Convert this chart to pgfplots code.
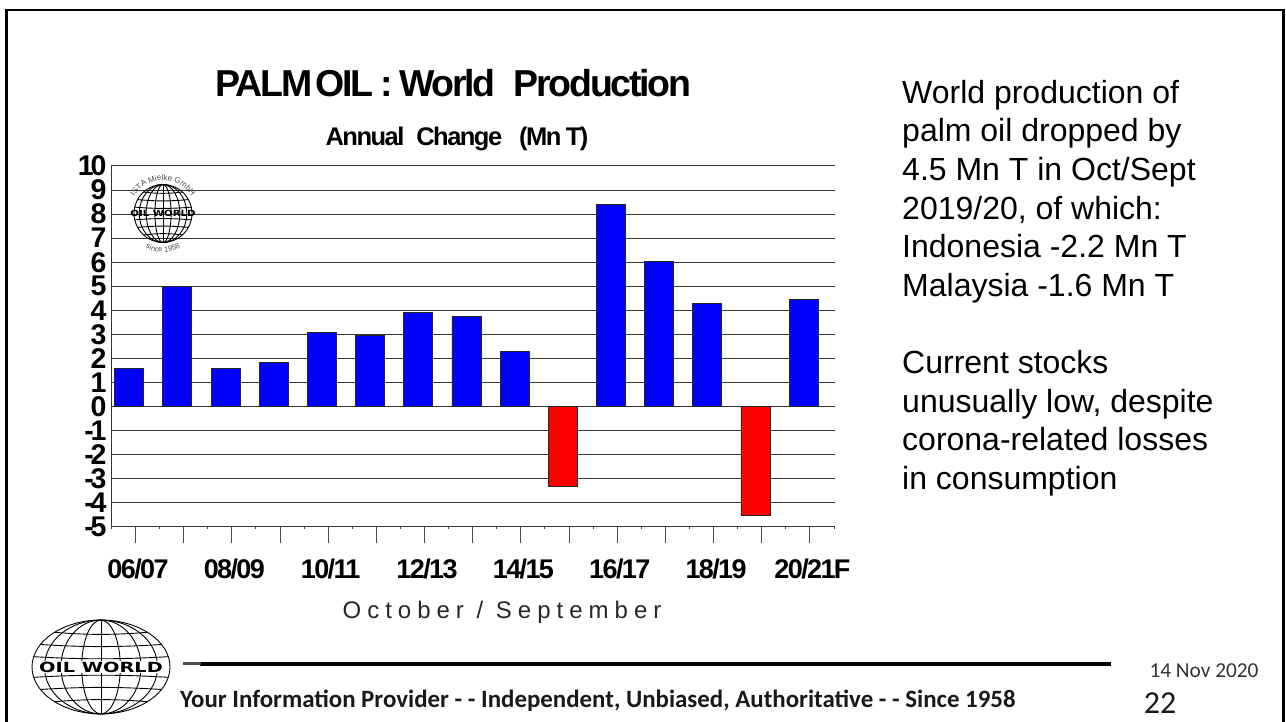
\documentclass[border=0pt]{standalone}
\usepackage{pgfplots}
\pgfplotsset{compat=1.18}
\usepackage{fontspec}
\usetikzlibrary{decorations.text}
\setmainfont{Liberation Sans}
\newfontfamily\tight[LetterSpace=-6,WordSpace=0.8]{Liberation Sans}
\newfontfamily\tighter[LetterSpace=-11]{Liberation Sans}
\newfontfamily\carl{Carlito}
\newfontfamily\djv{DejaVu Sans}
\pgfplotstableread{
x v
0 1.6
1 5.0
2 1.6
3 1.85
4 3.07
5 2.95
6 3.9
7 3.75
8 2.3
10 8.4
11 6.05
12 4.3
14 4.45
}\pos
\pgfplotstableread{
x v
9 -3.3
13 -4.5
}\negv
\newcommand{\globe}[3]{% x y scale
\begin{scope}[shift={(#1,#2)},x=#3pt,y=#3pt,line width=0.9pt]
\draw (0,0) ellipse (1 and 1);
\foreach \a in {0.28,0.58,0.82}{\draw (0,0) ellipse (\a*1 and 1);}
\draw (0,-1)--(0,1);
\foreach \b in {0.22,0.48,0.74}{
\pgfmathsetmacro\w{sqrt(1-\b*\b)}
\draw (-\w,\b) .. controls (-0.3*\w,\b-0.06) and (0.3*\w,\b-0.06) .. (\w,\b);
\draw (-\w,-\b) .. controls (-0.3*\w,-\b+0.06) and (0.3*\w,-\b+0.06) .. (\w,-\b);}
\end{scope}}
\begin{document}
\begin{tikzpicture}[x=1pt,y=1pt]
\path[use as bounding box] (0,0) rectangle (1286,722);
\draw[line width=2.5pt] (6.5,-5)--(6.5,712)--(1283.5,712)--(1283.5,-5);
\begin{axis}[at={(111pt,195pt)},anchor=south west,scale only axis,width=723.5pt,height=361pt,
xmin=-0.5085,xmax=14.51,ymin=-5,ymax=10,
axis x line*=bottom,axis y line*=left,axis line style={-,line width=1pt,black!80},
ytick={-5,...,10},
xtick={0,...,14},minor xtick={-0.5,0.5,...,14.5},
xticklabels={06/07,,08/09,,10/11,,12/13,,14/15,,16/17,,18/19,,20/21F},
ymajorgrids,major grid style={black!80,line width=1pt},
tick style={black!70,line width=1pt},
major tick length=16pt,minor tick length=2.5pt,
tick align=outside,
ytick style={draw=none},
tick pos=left,
every x tick label/.style={font=\fontsize{27}{27}\tight\bfseries,yshift=-12pt,xshift=2.5pt},
every y tick label/.style={font=\fontsize{28.5}{28}\tighter\bfseries,xshift=15pt},
/pgf/number format/assume math mode=true,
/pgf/number format/fixed,
ybar,bar width=29pt,bar shift=-6.3pt,
clip=false]
\addplot[fill=blue,draw=black!85,line width=0.8pt] table[x=x,y=v]{\pos};
\addplot[fill=red,draw=black!85,line width=0.8pt] table[x=x,y=v]{\negv};
\end{axis}
\node[font=\fontsize{37.5}{37}\tight\bfseries] at (453.5,639) {PALM\hspace{3pt}OIL : World\hspace{18pt}Production};
\node[font=\fontsize{25.5}{25}\tight\bfseries] at (457,583.5) {Annual\hspace{12pt}Change\hspace{17pt}(Mn T)};
\node[text=black!85,font=\fontsize{24}{24}\selectfont\addfontfeature{LetterSpace=25}] at (502,109.5) {October / September};
\node[anchor=north west,inner sep=0pt,align=left,font=\fontsize{32}{38.6}\selectfont] at (902,642) {World production of\\palm oil dropped by\\4.5 Mn T in Oct/Sept\\2019/20, of which:\\Indonesia -2.2 Mn T\\Malaysia -1.6 Mn T\\[38.6pt]Current stocks\\unusually low, despite\\corona-related losses\\in consumption};
% small logo
\globe{163}{508.5}{29}
\node[font=\fontsize{8.5}{8}\djv\bfseries,xscale=1.2] at (163,508.5) {OIL WORLD};
\path[decorate,decoration={text along path,text={|\fontsize{8}{8}\selectfont|ISTA Mielke GmbH},text align=center,
 text color=black!70}] (132.1,521) arc[start angle=158,end angle=22,radius=33.3];
\path[decorate,decoration={text along path,text={|\fontsize{7.5}{8}\selectfont|since 1958},text align=center,text color=black!70}] (136.2,480.7) arc[start angle=226,end angle=314,radius=38.6];
% footer logo
\begin{scope}[shift={(101,55)},yscale=0.68]
\globe{0}{0}{69}
\end{scope}
\node[fill=white,inner xsep=1pt,inner ysep=0.5pt,font=\fontsize{14}{14}\djv\bfseries,xscale=1.38] at (101,55) {OIL WORLD};
\draw[line width=4.5pt,black] (200,58)--(1111,58);
\draw[line width=3pt,black!70] (183,58)--(201,58);
\node[anchor=west,inner sep=0pt,font=\fontsize{24.9}{25}\carl\bfseries,text=black!90] at (180,21.5) {Your Information Provider - - Independent, Unbiased, Authoritative - - Since 1958};
\node[font=\fontsize{21.3}{22}\carl,text=black!80] at (1204,51.5) {14 Nov 2020};
\node[font=\fontsize{32}{32}\carl,text=black!90] at (1160,19) {22};
\end{tikzpicture}
\end{document}
